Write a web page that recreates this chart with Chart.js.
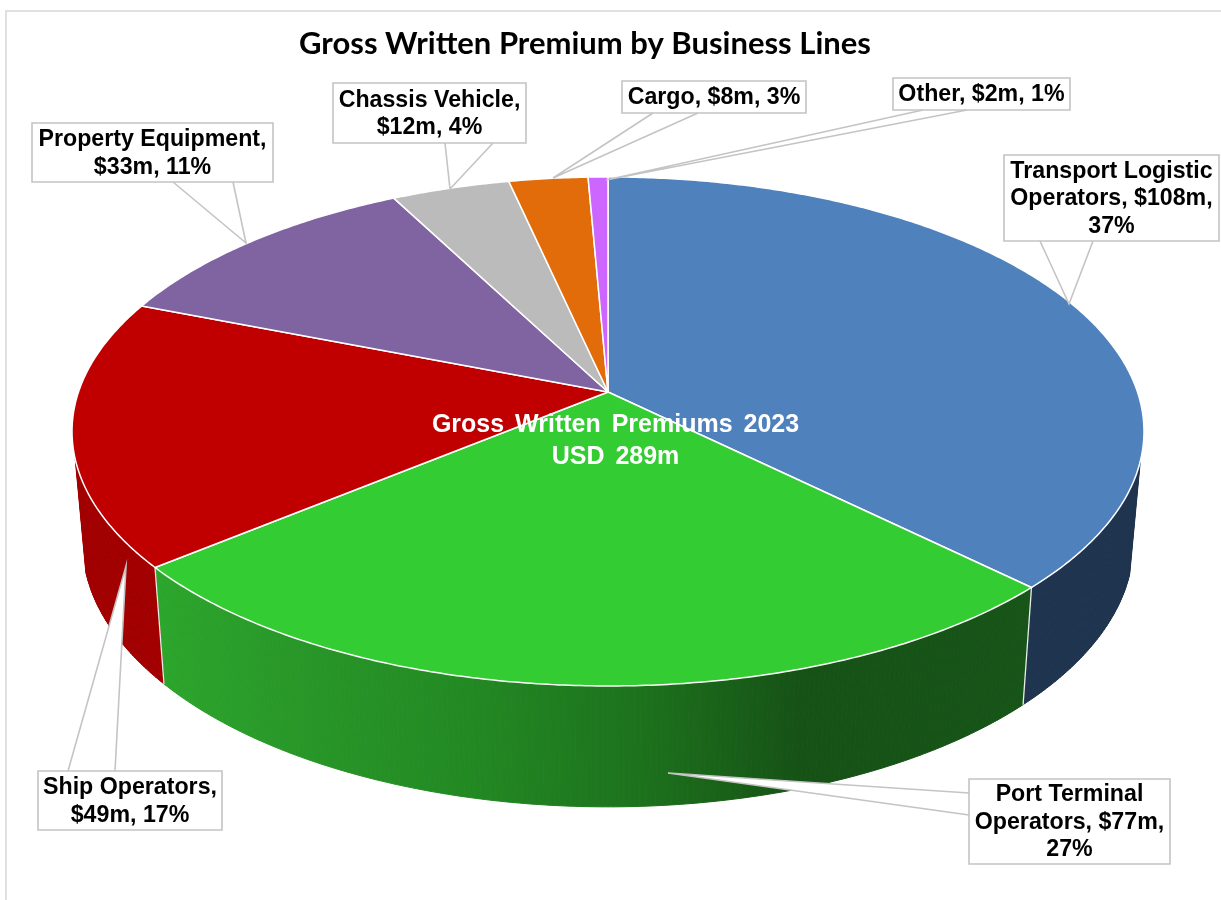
<!DOCTYPE html>
<html>
<head>
<meta charset="utf-8">
<title>Gross Written Premium by Business Lines</title>
<style>
  html, body { margin: 0; padding: 0; background: #ffffff; }
  canvas { display: block; }
</style>
<script src="https://cdn.jsdelivr.net/npm/chart.js@4"></script>
</head>
<body>
<canvas id="gwp" width="1221" height="900"></canvas>
<script>
// Business lines and premium in USD millions
const categories = [
  "Transport Logistic Operators", "Port Terminal Operators", "Ship Operators",
  "Property Equipment", "Chassis Vehicle", "Cargo", "Other"
];
const premiums = [108, 77, 49, 33, 12, 8, 2];
const reportYear = 2023;

const faceColors = ["#4f81bd", "#33cc33", "#c00000", "#8064a2", "#bbbbbb", "#e26b0a", "#cc66ff"];
const wallColors = ["#1f344f", null, "#a20000", "#604b7a", "#8c8c8c", "#a95008", "#9a4cbf"];

// Where each name wraps inside its callout box ("|" marks a line break)
const calloutTemplates = [
  "Transport Logistic|Operators, {v},|{p}",
  "Port Terminal|Operators, {v},|{p}",
  "Ship Operators,|{v}, {p}",
  "Property Equipment,|{v}, {p}",
  "Chassis Vehicle,|{v}, {p}",
  "Cargo, {v}, {p}",
  "Other, {v}, {p}"
];

// Callout geometry: box [x0, y0, x1, y1], wedge base points and wedge tip
const calloutBoxes = [
  { box: [1004, 155, 1219, 241], base: [[1040, 241], [1093, 241]], tip: [1069, 304] },
  { box: [969, 779, 1170, 864], base: [[969, 793], [969, 815]], tip: [668, 773] },
  { box: [38, 771, 222, 830], base: [[68, 771], [115, 771]], tip: [126, 566] },
  { box: [32, 123, 273, 182], base: [[173, 182], [233, 182]], tip: [246, 243] },
  { box: [333, 83, 526, 143], base: [[445, 143], [493, 143]], tip: [450, 189] },
  { box: [622, 81, 806, 113], base: [[653, 113], [698, 113]], tip: [553, 178] },
  { box: [893, 78, 1070, 110], base: [[923, 110], [967, 110]], tip: [606, 180] }
];

// Perspective projection of the pie's unit circle onto the top face and the base rim
const topRim = { x0: 608, y0: 392, ax: 529.5, ay: 248.4, p: -0.155 };
const baseRim = { x0: 608, y0: 502, ax: 519, ay: 257.6, p: -0.155 };
// The wall only shows on the part of the rim facing the viewer
const wallMinSine = 0.259;

function project(rim, angle) {
  const u = Math.cos(angle), v = Math.sin(angle);
  const d = 1 + rim.p * v;
  return [rim.x0 + rim.ax * u / d, rim.y0 + rim.ay * v / d];
}

function frontWallGradient(ctx) {
  const g = ctx.createLinearGradient(157, 0, 1023, 0);
  g.addColorStop(0, "#2ca62c");
  g.addColorStop(0.17, "#289628");
  g.addColorStop(0.35, "#238a23");
  g.addColorStop(0.55, "#1d731d");
  g.addColorStop(0.74, "#165216");
  g.addColorStop(1, "#175418");
  return g;
}

// Draws the slices as a tilted 3D disc, using the angles the arc elements hold
const tiltedPie = {
  id: "tiltedPie",
  beforeDatasetsDraw(chart) {
    const ctx = chart.ctx;
    const arcs = chart.getDatasetMeta(0).data;
    const step = Math.PI / 360;
    const portWall = frontWallGradient(ctx);

    // Side wall: short strips along the visible front of the rim
    ctx.save();
    ctx.lineWidth = 1;
    arcs.forEach((arc, i) => {
      const style = wallColors[i] || portWall;
      for (let a = arc.startAngle; a < arc.endAngle; a += step) {
        const b = Math.min(a + step, arc.endAngle);
        if (Math.sin(a) < wallMinSine || Math.sin(b) < wallMinSine) continue;
        const p = [project(topRim, a), project(topRim, b), project(baseRim, b), project(baseRim, a)];
        ctx.beginPath();
        p.forEach((q, k) => k ? ctx.lineTo(q[0], q[1]) : ctx.moveTo(q[0], q[1]));
        ctx.closePath();
        ctx.fillStyle = style;
        ctx.strokeStyle = style;
        ctx.fill();
        ctx.stroke();
      }
    });

    // Light seams where two slices meet on the front wall
    ctx.strokeStyle = "#e8eee8";
    ctx.lineWidth = 1.3;
    arcs.forEach(arc => {
      if (Math.sin(arc.endAngle) > wallMinSine) {
        const t = project(topRim, arc.endAngle), b = project(baseRim, arc.endAngle);
        ctx.beginPath();
        ctx.moveTo(t[0], t[1]);
        ctx.lineTo(b[0], b[1]);
        ctx.stroke();
      }
    });

    // Top face
    ctx.lineJoin = "round";
    arcs.forEach((arc, i) => {
      ctx.beginPath();
      ctx.moveTo(topRim.x0, topRim.y0);
      for (let a = arc.startAngle; a < arc.endAngle; a += step) {
        const q = project(topRim, a);
        ctx.lineTo(q[0], q[1]);
      }
      const e = project(topRim, arc.endAngle);
      ctx.lineTo(e[0], e[1]);
      ctx.closePath();
      ctx.fillStyle = faceColors[i];
      ctx.strokeStyle = "#ffffff";
      ctx.lineWidth = 1.5;
      ctx.fill();
      ctx.stroke();
    });
    ctx.restore();
    return false;
  },
  afterDraw(chart) {
    const ctx = chart.ctx;
    const total = premiums.reduce((s, v) => s + v, 0);
    ctx.save();
    ctx.textAlign = "center";
    ctx.textBaseline = "middle";

    // Total in the middle of the disc
    ctx.fillStyle = "#ffffff";
    ctx.font = "bold 25px 'Liberation Sans'";
    ctx.wordSpacing = "4px";
    ctx.fillText("Gross Written Premiums " + reportYear, 615.5, 425);
    ctx.fillText("USD " + total + "m", 615.5, 457);
    ctx.wordSpacing = "0px";

    // Callouts: white wedge pointing at the slice, then the labelled box
    ctx.font = "bold 23.2px 'Liberation Sans'";
    calloutBoxes.forEach((c, i) => {
      const value = "$" + premiums[i] + "m";
      const pct = Math.round(premiums[i] / total * 100) + "%";
      const lines = calloutTemplates[i].replace("{v}", value).replace("{p}", pct).split("|");
      const [x0, y0, x1, y1] = c.box;

      ctx.beginPath();
      ctx.moveTo(c.base[0][0], c.base[0][1]);
      ctx.lineTo(c.tip[0], c.tip[1]);
      ctx.lineTo(c.base[1][0], c.base[1][1]);
      ctx.fillStyle = "#ffffff";
      ctx.strokeStyle = "#c4c4c4";
      ctx.lineWidth = 1.6;
      ctx.fill();
      ctx.stroke();

      ctx.beginPath();
      ctx.rect(x0, y0, x1 - x0, y1 - y0);
      ctx.stroke();
      // Let the wedge open into the box interior
      ctx.fillRect(x0 + 1, y0 + 1, x1 - x0 - 2, y1 - y0 - 2);

      ctx.fillStyle = "#000000";
      const lh = 27.6;
      const cy = (y0 + y1) / 2 + 1;
      lines.forEach((t, k) => {
        ctx.fillText(t, (x0 + x1) / 2, cy + (k - (lines.length - 1) / 2) * lh);
      });
    });
    ctx.restore();
  },
  beforeDraw(chart) {
    // Thin frame along the top and left edges
    const ctx = chart.ctx;
    ctx.save();
    ctx.fillStyle = "#ffffff";
    ctx.fillRect(0, 0, chart.width, chart.height);
    ctx.fillStyle = "#e0e0e0";
    ctx.fillRect(5, 10, chart.width - 5, 2);
    ctx.fillRect(5, 10, 2, chart.height - 10);
    ctx.restore();
  }
};

new Chart(document.getElementById("gwp"), {
  type: "pie",
  data: {
    labels: categories,
    datasets: [{ data: premiums, backgroundColor: faceColors }]
  },
  options: {
    responsive: false,
    animation: false,
    events: [],
    layout: { padding: { right: 51 } },
    plugins: {
      legend: { display: false },
      tooltip: { enabled: false },
      title: {
        display: true,
        text: "Gross Written Premium by Business Lines",
        color: "#000000",
        font: { family: "Lato", weight: "bold", size: 31 },
        padding: { top: 25, bottom: 10 }
      }
    }
  },
  plugins: [tiltedPie]
});
</script>
</body>
</html>
